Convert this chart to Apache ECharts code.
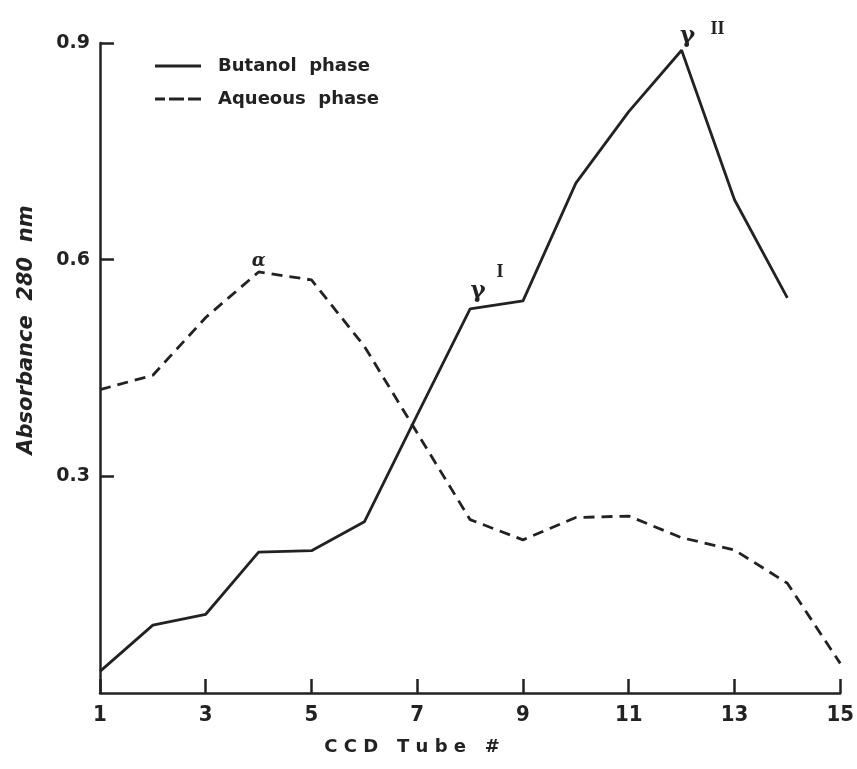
<!DOCTYPE html>
<html>
<head>
<meta charset="utf-8">
<script src="https://cdn.jsdelivr.net/npm/echarts@6/dist/echarts.min.js"></script>
<style>
html,body{margin:0;padding:0;background:#fff;}
#main{width:857px;height:769px;}
</style>
</head>
<body>
<div id="main"></div>
<script>
// ---- data ----
const tubes = [1, 2, 3, 4, 5, 6, 7, 8, 9, 10, 11, 12, 13, 14, 15];
const butanol = [0.030, 0.094, 0.109, 0.195, 0.197, 0.237, 0.385, 0.532, 0.543, 0.706, 0.805, 0.890, 0.683, 0.547];
const aqueous = [0.420, 0.440, 0.520, 0.583, 0.572, 0.480, 0.360, 0.240, 0.212, 0.243, 0.245, 0.215, 0.198, 0.152, 0.041];
const seriesNames = ['Butanol  phase', 'Aqueous  phase'];
const yTicks = [0.3, 0.6, 0.9];
const xTickLabels = [1, 3, 5, 7, 9, 11, 13, 15];
const peakLabels = [
  {series: 1, tube: 4, text: 'α'},
  {series: 0, tube: 8, text: 'γ', sup: 'I'},
  {series: 0, tube: 12, text: 'γ', sup: 'II'}
];

const ink = '#222';
const font = '"DejaVu Sans", sans-serif';
const narrow = '"Liberation Sans Narrow", "DejaVu Sans Condensed", sans-serif';

function pairs(vals) { return vals.map((v, i) => [tubes[i], v]); }

function marks(sIdx) {
  const vals = sIdx === 0 ? butanol : aqueous;
  const out = [];
  peakLabels.filter(p => p.series === sIdx).forEach(p => {
    const coord = [p.tube, vals[tubes.indexOf(p.tube)]];
    if (!p.sup) {
      out.push({coord, symbolSize: 0, label: {show: true, formatter: p.text, offset: [0, -11],
        fontFamily: '"DejaVu Serif", serif', fontStyle: 'italic', fontWeight: 'bold', fontSize: 18, color: ink}});
    } else {
      const big = p.sup === 'II';
      out.push({coord, symbolSize: 0, label: {show: true, formatter: p.text, offset: big ? [6, -14] : [8, -18],
        fontFamily: '"DejaVu Serif", serif', fontWeight: 'bold', fontSize: 23, color: ink}});
      out.push({coord, symbolSize: 0, label: {show: true, formatter: p.sup, offset: big ? [36, -21] : [30, -36],
        fontFamily: '"Liberation Serif", serif', fontWeight: 'bold', fontSize: 18, color: ink}});
    }
  });
  return out;
}

const solidIcon = 'path://M0,0H46V3H0Z';
const dashIcon = 'path://M0,0H10V3H0Z M14,0H29V3H14Z M33,0H46V3H33Z';

const chart = echarts.init(document.getElementById('main'));
chart.setOption({
  backgroundColor: '#fff',
  animation: false,
  grid: {left: 100, right: 10, top: 43, bottom: 76},
  legend: {
    orient: 'vertical', left: 150, top: 50, itemWidth: 46, itemHeight: 22, itemGap: 11,
    data: [{name: seriesNames[0], icon: solidIcon}, {name: seriesNames[1], icon: dashIcon}],
    itemStyle: {color: ink, borderWidth: 0},
    textStyle: {fontFamily: font, fontWeight: 'bold', fontSize: 18, lineHeight: 22, color: ink, padding: [0, 0, 0, 12]}
  },
  xAxis: {
    type: 'value', min: 1, max: 15, interval: 2,
    name: 'C C D   T u b e   #', nameLocation: 'middle', nameGap: 45,
    nameTextStyle: {fontFamily: font, fontWeight: 'bold', fontSize: 18, color: ink, padding: [0, 116, 0, 0]},
    axisLine: {lineStyle: {color: ink, width: 2.5}},
    axisTick: {inside: true, length: 14, lineStyle: {color: ink, width: 2.5}},
    axisLabel: {fontFamily: narrow, fontWeight: 'bold', fontSize: 22, color: ink, margin: 11,
      formatter: v => xTickLabels.includes(v) ? String(v) : ''},
    splitLine: {show: false}
  },
  yAxis: {
    type: 'value', min: 0, max: 0.9, interval: 0.3,
    name: 'Absorbance  280  nm', nameLocation: 'middle', nameGap: 63,
    nameTextStyle: {fontFamily: font, fontWeight: 'bold', fontStyle: 'italic', fontSize: 21, color: ink, padding: [0, 0, 0, 76]},
    axisLine: {show: true, lineStyle: {color: ink, width: 2.5}},
    axisTick: {inside: true, length: 14, lineStyle: {color: ink, width: 2.5}},
    axisLabel: {fontFamily: font, fontWeight: 'bold', fontSize: 19, color: ink, margin: 10, showMinLabel: false,
      formatter: v => yTicks.some(t => Math.abs(t - v) < 1e-6) ? v.toFixed(1) : ''},
    splitLine: {show: false}
  },
  series: [
    {
      name: seriesNames[0], type: 'line', data: pairs(butanol), symbol: 'none',
      lineStyle: {color: ink, width: 2.8, type: 'solid'}, itemStyle: {color: ink},
      markPoint: {symbol: 'circle', symbolSize: 0, data: marks(0)}
    },
    {
      name: seriesNames[1], type: 'line', data: pairs(aqueous), symbol: 'none',
      lineStyle: {color: ink, width: 2.8, type: [11, 7]}, itemStyle: {color: ink},
      markPoint: {symbol: 'circle', symbolSize: 0, data: marks(1)}
    }
  ]
});
</script>
</body>
</html>
